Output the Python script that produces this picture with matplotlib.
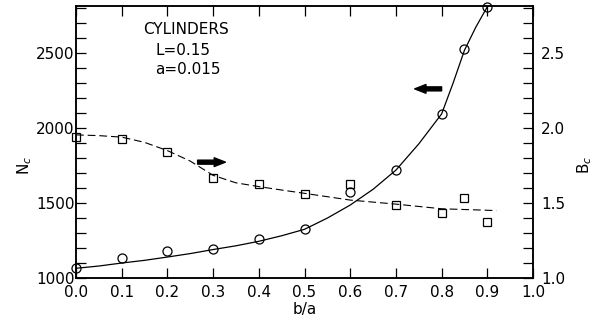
import numpy as np
import matplotlib
matplotlib.use("Agg")
import matplotlib.pyplot as plt
from matplotlib.ticker import MultipleLocator

plt.rcParams['font.family'] = ['DejaVu Sans']
plt.rcParams['font.size'] = 11

# measured points: N_c (circles, left axis)
ba_nc = [0.0, 0.1, 0.2, 0.3, 0.4, 0.5, 0.6, 0.7, 0.8, 0.85, 0.9]
nc = [1070, 1135, 1180, 1195, 1260, 1330, 1572, 1720, 2095, 2530, 2810]

# solid curve through N_c
ba_nc_fit = [0.0, 0.05, 0.1, 0.15, 0.2, 0.25, 0.3, 0.35, 0.4, 0.45, 0.5, 0.55,
             0.6, 0.65, 0.7, 0.75, 0.8, 0.825, 0.85, 0.875, 0.9]
nc_fit = [1065, 1080, 1100, 1118, 1140, 1163, 1190, 1215, 1245, 1282, 1325, 1400,
          1487, 1592, 1720, 1895, 2095, 2300, 2520, 2675, 2810]

# measured points: B_c (squares, right axis)
ba_bc = [0.0, 0.1, 0.2, 0.3, 0.4, 0.5, 0.6, 0.7, 0.8, 0.85, 0.9]
bc = [1.944, 1.93, 1.844, 1.667, 1.629, 1.562, 1.629, 1.489, 1.433, 1.537, 1.373]

# dashed curve through B_c
ba_bc_fit = [0.0, 0.05, 0.1, 0.15, 0.2, 0.25, 0.3, 0.35, 0.4, 0.45, 0.5,
             0.6, 0.7, 0.8, 0.92]
bc_fit = [1.955, 1.95, 1.94, 1.905, 1.85, 1.78, 1.685, 1.635, 1.61, 1.587, 1.565,
          1.52, 1.493, 1.462, 1.45]

fig = plt.figure(figsize=(6, 3.22), dpi=100)
ax = fig.add_axes([0.1267, 0.1366, 0.7617, 0.8448])
ax2 = ax.twinx()

ax.plot(ba_nc_fit, nc_fit, color='black', lw=0.9)
ax.plot(ba_nc, nc, 'o', mfc='none', mec='black', ms=6.5, mew=0.9, clip_on=False)
ax2.plot(ba_bc_fit, bc_fit, color='black', lw=0.8, dashes=(7, 3.5))
ax2.plot(ba_bc, bc, 's', mfc='none', mec='black', ms=5.5, mew=0.9, clip_on=False)

ax.set_xlim(0, 1.0)
ax.set_ylim(1000, 2815)
ax2.set_ylim(1.0, 2.815)

ax.xaxis.set_major_locator(MultipleLocator(0.1))
ax.yaxis.set_major_locator(MultipleLocator(500))
ax.yaxis.set_minor_locator(MultipleLocator(100))
ax2.yaxis.set_major_locator(MultipleLocator(0.5))
ax2.yaxis.set_minor_locator(MultipleLocator(0.1))
ax.xaxis.set_major_formatter(plt.FuncFormatter(lambda v, p: f"{v:.1f}"))
ax2.yaxis.set_major_formatter(plt.FuncFormatter(lambda v, p: f"{v:.1f}"))

ax.tick_params(axis='x', which='both', direction='in', top=True, length=7, width=0.9, pad=5)
ax.tick_params(axis='y', which='both', direction='in', length=7, width=0.9, pad=1)
ax2.tick_params(axis='y', which='both', direction='in', length=7, width=0.9, pad=6)

for a in (ax, ax2):
    for s in a.spines.values():
        s.set_linewidth(1.1)

ax.set_xlabel('b/a')
ax.xaxis.set_label_coords(0.5, -0.09)
ax.set_ylabel('N$_c$')
ax.yaxis.set_label_coords(-0.092, 0.415)
ax2.set_ylabel('B$_c$')
ax2.yaxis.set_label_coords(1.092, 0.415)

ax.text(0.147, 0.912, 'CYLINDERS', transform=ax.transAxes, ha='left', va='center')
ax.text(0.173, 0.838, 'L=0.15', transform=ax.transAxes, ha='left', va='center')
ax.text(0.173, 0.765, 'a=0.015', transform=ax.transAxes, ha='left', va='center')

arrow_style = 'simple,head_length=0.9,head_width=0.7,tail_width=0.32'
ax.annotate('', xy=(0.333, 1773), xytext=(0.26, 1773),
            arrowprops=dict(arrowstyle=arrow_style, mutation_scale=9, color='black'))
ax.annotate('', xy=(0.735, 2262), xytext=(0.806, 2262),
            arrowprops=dict(arrowstyle=arrow_style, mutation_scale=9, color='black'))

fig.savefig('out.png', dpi=100)
